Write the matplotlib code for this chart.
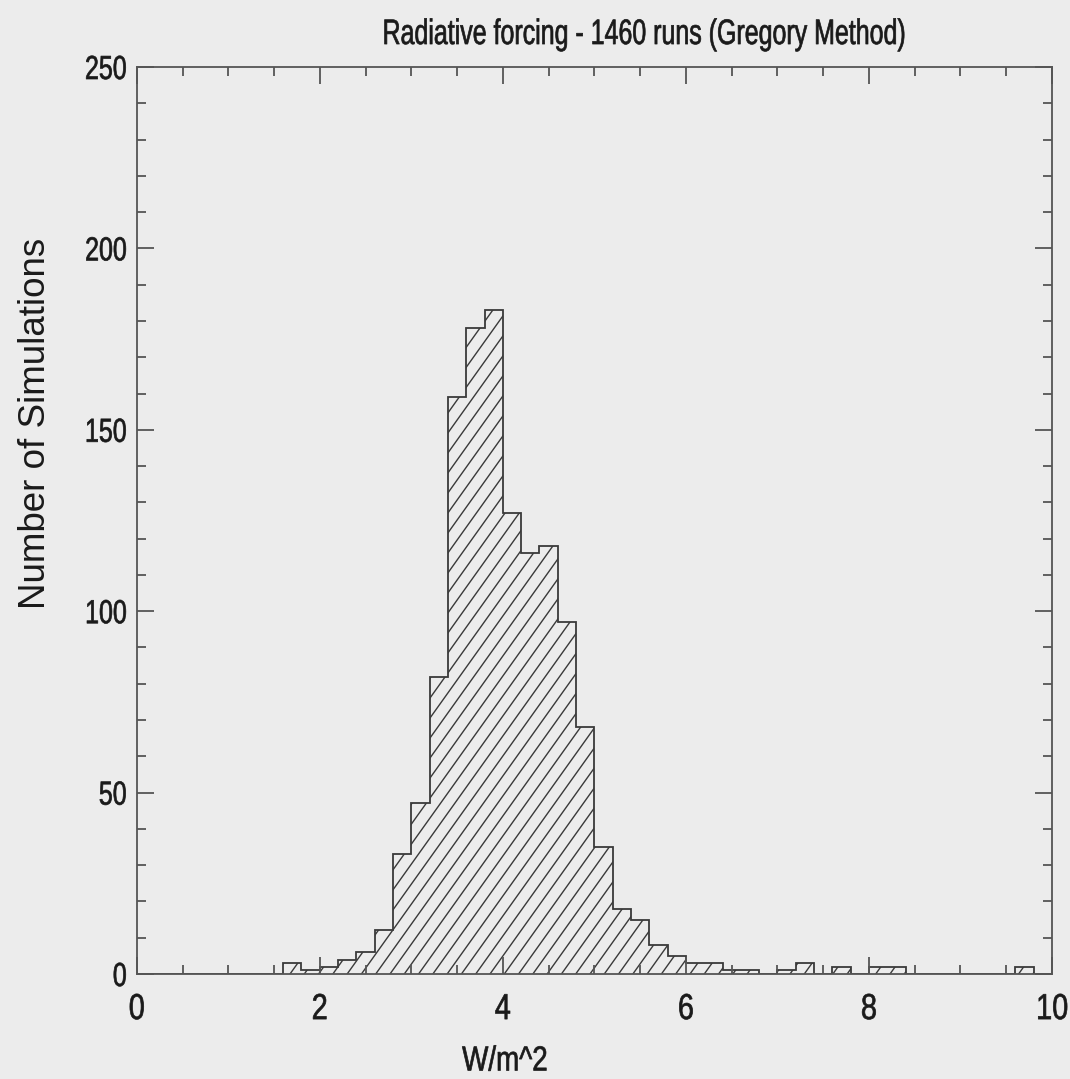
import matplotlib
matplotlib.use("Agg")
import matplotlib.pyplot as plt
import matplotlib.hatch as mhatch
from matplotlib.path import Path
from matplotlib.ticker import MultipleLocator
from matplotlib.patheffects import AbstractPathEffect
from matplotlib.transforms import Affine2D

# Histogram of radiative forcing (W/m^2), bins of width 0.2 from 0 to 10
bin_edges = [round(0.2 * i, 1) for i in range(51)]
counts = [
    0, 0, 0, 0, 0, 0, 0, 0,          # 0.0 - 1.6
    3, 1, 2, 4, 6, 12, 33, 47,       # 1.6 - 3.2
    82, 159, 178, 183, 127, 116, 118, 97,   # 3.2 - 4.8
    68, 35, 18, 15, 8, 5, 3, 3,      # 4.8 - 6.4
    1, 1, 0, 1, 3, 0, 2, 0,          # 6.4 - 8.0
    2, 2, 0, 0, 0, 0, 0, 0,          # 8.0 - 9.6
    2, 0,                            # 9.6 - 10.0
]

title = "Radiative forcing - 1460 runs (Gregory Method)"
xlabel = "W/m^2"
ylabel = "Number of Simulations"
xticks = [0, 2, 4, 6, 8, 10]
yticks = [0, 50, 100, 150, 200, 250]


class SteepHatch(mhatch.HatchPatternBase):
    """'/' hatch drawn steeper than 45 degrees (rise 7 over run 5),
    7 lines per hatch tile so the pattern tiles seamlessly."""

    RUN, RISE = 5, 7

    def __init__(self, hatch, density):
        reps = hatch.count('/')
        n = self.RISE * reps
        self.offsets = [k / n for k in range(-self.RUN * reps, n + 1)] if reps else []
        self.num_vertices = 2 * len(self.offsets)

    def set_vertices_and_codes(self, vertices, codes):
        dx = self.RUN / self.RISE
        for i, c in enumerate(self.offsets):
            vertices[2 * i] = (c, 0.0)
            vertices[2 * i + 1] = (c + dx, 1.0)
            codes[2 * i] = Path.MOVETO
            codes[2 * i + 1] = Path.LINETO


mhatch._hatch_types[mhatch._hatch_types.index(mhatch.NorthEastHatch)] = SteepHatch


class Condensed(AbstractPathEffect):
    """Draw text horizontally compressed (like a narrow typeface),
    with a thin outline in the text colour to give a heavier stroke."""

    def __init__(self, sx=0.8, anchor="center", stroke=0.5):
        super().__init__()
        self.sx = sx
        self.anchor = anchor
        self.stroke = stroke

    def draw_path(self, renderer, gc, tpath, affine, rgbFace=None):
        ext = tpath.get_extents(affine)
        if self.anchor == "right":
            cx = ext.x1
        elif self.anchor == "left":
            cx = ext.x0
        else:
            cx = 0.5 * (ext.x0 + ext.x1)
        squeeze = Affine2D().translate(-cx, 0).scale(self.sx, 1).translate(cx, 0)
        trans = affine + squeeze
        gc2 = renderer.new_gc()
        gc2.copy_properties(gc)
        if rgbFace is not None and self.stroke > 0:
            gc2.set_linewidth(self.stroke)
            gc2.set_foreground(rgbFace, isRGBA=len(rgbFace) == 4)
        renderer.draw_path(gc2, tpath, trans, rgbFace)
        gc2.restore()


font = ["Liberation Sans", "DejaVu Sans"]
ink = "#3a3a3a"
txt = "#1a1a1a"
bg = "#ececec"

plt.rcParams["hatch.linewidth"] = 1.0
plt.rcParams["hatch.color"] = "#4a4a4a"

fig = plt.figure(figsize=(10.70, 10.79), dpi=100, facecolor=bg)
ax = fig.add_axes([0.1278, 0.0973, 0.8554, 0.8406], facecolor=bg)

ax.stairs(counts, bin_edges, fill=True, baseline=0, facecolor="none",
          edgecolor=ink, hatch="/", linewidth=1.3)

ax.set_xlim(0, 10)
ax.set_ylim(0, 250)
ax.set_xticks(xticks)
ax.set_yticks(yticks)
ax.xaxis.set_minor_locator(MultipleLocator(0.5))
ax.yaxis.set_minor_locator(MultipleLocator(10))

ax.tick_params(which="both", direction="in", top=True, right=True,
               color="#555555", width=1.3)
ax.tick_params(which="major", length=12.5)
ax.tick_params(which="minor", length=6.5)
ax.tick_params(axis="x", which="major", pad=13)
ax.tick_params(axis="y", which="major", pad=7)

for lab in ax.get_xticklabels():
    lab.set_fontfamily(font)
    lab.set_fontsize(26)
    lab.set_color(txt)
    lab.set_path_effects([Condensed(0.8, "center")])
for lab in ax.get_yticklabels():
    lab.set_fontfamily(font)
    lab.set_fontsize(24)
    lab.set_color(txt)
    lab.set_path_effects([Condensed(0.75, "right")])

for sp in ax.spines.values():
    sp.set_color("#555555")
    sp.set_linewidth(1.3)

fig.text(0.602, 0.968, title, ha="center", va="center", fontsize=25.5,
         family=font, color=txt, path_effects=[Condensed(0.705, "center")])
fig.text(0.472, 0.0167, xlabel, ha="center", va="center", fontsize=25,
         family=font, color=txt, path_effects=[Condensed(0.8, "center")])
fig.text(0.033, 0.608, ylabel, ha="center", va="center", rotation=90,
         fontsize=26.5, family=font, color=txt)

fig.savefig("out.png", dpi=100, facecolor=bg)
